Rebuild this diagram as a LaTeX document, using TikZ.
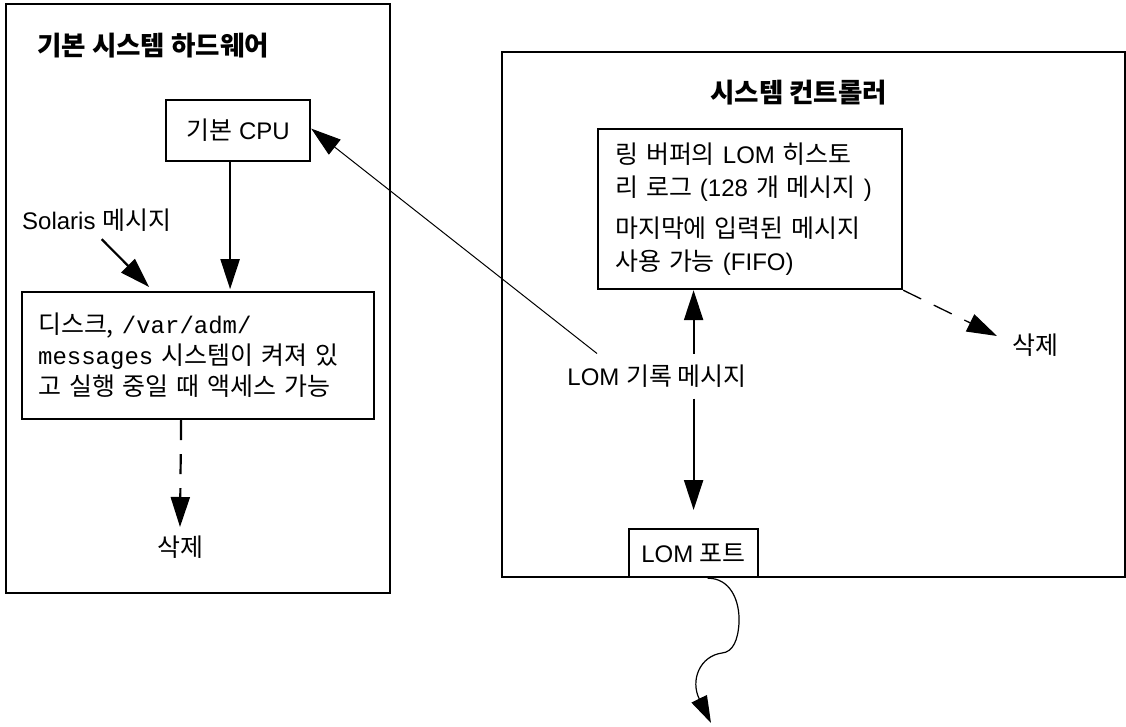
\documentclass[tikz,border=0pt]{standalone}
\usepackage{fontspec}
\setmainfont{Liberation Sans}
\setmonofont{Liberation Mono}
\newfontfamily\kr{Noto Sans CJK KR}[Scale=1.04]
\usetikzlibrary{arrows.meta}
\newcommand\ko[1]{{\kr #1}}
\begin{document}
\begin{tikzpicture}[x=1pt,y=-1pt,
  font=\fontsize{24}{31}\selectfont,
  box/.style={draw, line width=2.2pt, inner sep=0pt},
  lbl/.style={inner sep=0pt},
  ttl/.style={inner sep=0pt, font=\fontsize{25.5}{30}\selectfont\bfseries},
  arr/.style={line width=2.2pt, -{Triangle[length=30pt,width=19pt]}},
  thinarr/.style={line width=1pt, -{Triangle[length=30pt,width=19pt]}},
  dasharr/.style={line width=2.2pt, dash pattern=on 20pt off 14pt, -{Triangle[length=30pt,width=19pt]}},
  thindash/.style={line width=1.3pt, dash pattern=on 20pt off 14pt, -{Triangle[length=30pt,width=19pt]}},
  wavy/.style={line width=1.2pt, -{Triangle[length=27pt,width=17pt]}}]
\useasboundingbox (0,0) rectangle (1126,726);

% outer boxes
\node[box, minimum width=384, minimum height=589, anchor=north west] (hw) at (5,3) {};
\node[box, minimum width=623, minimum height=525, anchor=north west] (sc) at (501,51) {};

% titles
\node[ttl, anchor=base west] (t1) at (37,55) {\ko{기본 시스템 하드웨어}};
\node[ttl, anchor=base west] (t2) at (710,102) {\ko{시스템 컨트롤러}};

% left side
\node[box, minimum width=144, minimum height=61, anchor=north west] (cpu) at (165,99) {\ko{기본} CPU};
\node[lbl, anchor=base west] (sol) at (22,229) {Solaris \ko{메시지}};
\node[box, anchor=north west, minimum height=127, text width=320, inner xsep=16pt, align=left] (disk) at (21,291)
  {\ko{디스크,} \texttt{/var/adm/}\\\texttt{messages} \ko{시스템이 켜져 있}\\\ko{고 실행 중일 때 액세스 가능}};
\node[lbl] (del1) at (180,547) {\ko{삭제}};

% right side
\node[box, anchor=north west, minimum height=160, text width=270, inner xsep=17pt, align=left,
  font=\fontsize{24}{33}\selectfont] (ring) at (597,128)
  {\ko{링 버퍼의} LOM \ko{히스토}\\\ko{리 로그} (128 \ko{개 메시지} )\\[8pt]\ko{마지막에 입력된 메시지}\\\ko{사용 가능} (FIFO)};
\node[lbl] (del2) at (1035,345) {\ko{삭제}};
\node[lbl, inner ysep=11pt] (rec) at (657,376) {LOM \ko{기록 메시지}};
\node[box, minimum width=129, minimum height=48, anchor=north west] (port) at (628,528) {LOM \ko{포트}};
\coordinate (lomout) at (711,723);

% connectors
\draw[arr] ([xshift=-8pt]cpu.south) -- ++(0,127);
\draw[arr] ([xshift=5pt,yshift=-8pt]sol.south) -- ([xshift=-49pt,yshift=4pt]disk.north);
\draw[dasharr] ([xshift=-17pt]disk.south) -- ([yshift=20pt]del1.center);
\draw[thinarr] ([xshift=-60pt]rec.north) -- ([yshift=2pt]cpu.east);
\draw[arr] (rec.north -| port.center) -- (ring.south -| port.center);
\draw[arr] (rec.south -| port.center) -- ([yshift=18pt]port.north);
\draw[thindash] (ring.south east) -- ([xshift=-38pt,yshift=9pt]del2.center);
\draw[wavy] ([xshift=14pt]port.south) .. controls (730,578) and (740,600) .. (739,623)
  .. controls (738,640) and (733,652) .. (722,653)
  .. controls (700,656) and (690,680) .. (lomout);
\end{tikzpicture}
\end{document}
